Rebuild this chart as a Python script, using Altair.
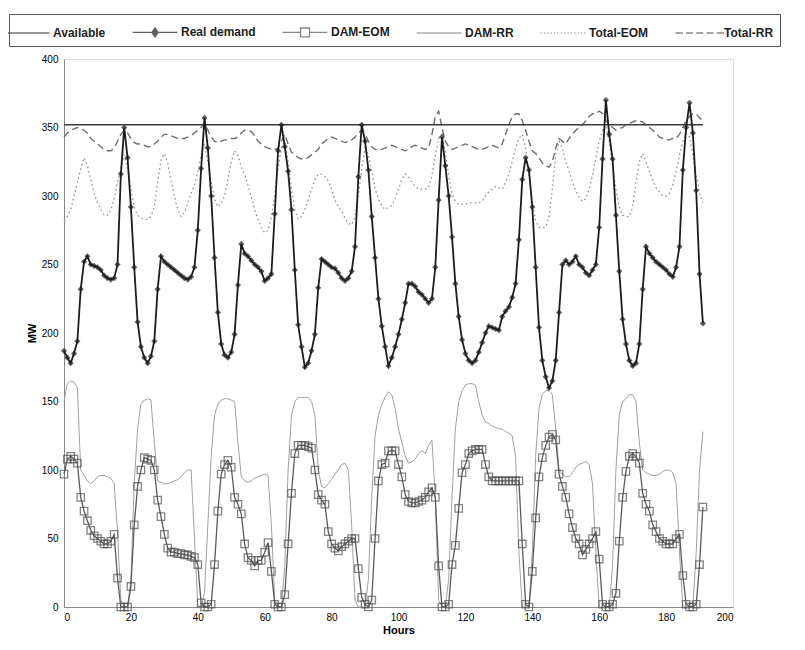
import altair as alt
import pandas as pd
import numpy as np

# ---------------- data ----------------
HOURS = list(range(192))
AVAILABLE_HOURS = [0, 191]
AVAILABLE = [352, 352]

REAL_DEMAND = [
    187, 182, 178, 185, 194, 232, 252, 256, 250, 249, 248, 246, 242, 240, 239, 240, 250, 316, 350, 328, 292, 248, 208, 190,
    182, 178, 183, 194, 232, 256, 252, 250, 248, 246, 244, 242, 240, 239, 241, 248, 275, 320, 357, 335, 300, 255, 215, 192,
    184, 182, 186, 199, 235, 265, 258, 256, 253, 250, 248, 245, 238, 240, 243, 287, 333, 352, 336, 318, 290, 246, 206, 190,
    175, 178, 187, 199, 233, 254, 252, 250, 248, 247, 244, 240, 238, 240, 245, 263, 314, 352, 340, 319, 285, 255, 225, 205,
    190, 176, 182, 190, 199, 210, 222, 236, 236, 234, 230, 228, 225, 222, 225, 248, 297, 343, 322, 300, 270, 236, 212, 195,
    185, 180, 178, 180, 186, 193, 200, 205, 204, 203, 202, 212, 216, 219, 226, 236, 268, 312, 328, 319, 292, 248, 204, 180,
    168, 160, 165, 180, 215, 250, 253, 250, 252, 256, 250, 248, 244, 242, 246, 250, 277, 327, 370, 345, 327, 286, 245, 210,
    192, 180, 176, 178, 192, 232, 263, 258, 255, 252, 250, 248, 246, 243, 241, 248, 263, 319, 350, 368, 346, 304, 243, 207,
]

DAM_EOM = [
    97, 108, 110, 108, 105, 80, 70, 63, 56, 52, 50, 48, 46, 46, 48, 53, 21, 0, 0, 0, 15, 60, 88, 100,
    109, 108, 107, 100, 78, 66, 53, 43, 40, 40, 39, 39, 38, 38, 37, 36, 31, 3, 0, 0, 2, 31, 70, 97,
    104, 107, 102, 80, 75, 68, 46, 36, 34, 30, 34, 34, 40, 47, 26, 2, 0, 0, 9, 46, 83, 112, 118, 118,
    118, 117, 116, 100, 82, 78, 75, 55, 46, 43, 41, 44, 46, 48, 50, 50, 28, 7, 2, 0, 5, 50, 92, 104,
    105, 114, 114, 114, 104, 95, 82, 77, 76, 76, 77, 78, 80, 84, 87, 80, 30, 0, 0, 2, 31, 45, 72, 98,
    104, 112, 114, 115, 115, 115, 104, 95, 92, 92, 92, 92, 92, 92, 92, 92, 92, 46, 2, 0, 26, 65, 95, 109,
    118, 124, 126, 122, 97, 88, 80, 68, 58, 50, 46, 38, 42, 46, 50, 55, 35, 2, 0, 0, 2, 10, 48, 80,
    99, 110, 112, 110, 105, 83, 75, 70, 60, 55, 50, 48, 46, 46, 46, 50, 53, 23, 2, 0, 0, 2, 31, 73,
]

DAM_RR = [
    150, 163, 165, 164, 160, 100, 96, 92, 90, 92, 95, 96, 96, 95, 94, 90, 55, 5, 0, 0, 20, 90, 130, 148,
    151, 152, 151, 120, 92, 91, 90, 90, 91, 92, 93, 95, 98, 100, 100, 50, 0, 0, 10, 60, 110, 140, 148, 151,
    152, 152, 151, 150, 120, 95, 92, 91, 92, 94, 95, 96, 97, 96, 60, 5, 0, 0, 30, 100, 140, 150, 153, 153,
    153, 153, 150, 140, 100, 88, 87, 90, 93, 97, 100, 104, 105, 100, 60, 5, 0, 0, 0, 20, 80, 125, 140, 148,
    153, 157, 155, 145, 130, 120, 110, 105, 106, 108, 112, 114, 112, 118, 122, 80, 5, 0, 0, 20, 80, 130, 150, 158,
    162, 163, 163, 162, 150, 140, 135, 134, 132, 131, 130, 130, 128, 127, 125, 110, 40, 0, 0, 0, 40, 110, 145, 155,
    158, 158, 155, 130, 100, 97, 95, 95, 98, 102, 104, 105, 106, 104, 90, 40, 0, 0, 0, 0, 30, 100, 140, 150,
    152, 155, 155, 150, 120, 100, 98, 97, 96, 96, 97, 99, 100, 100, 98, 90, 40, 0, 0, 0, 0, 40, 100, 128,
]

TOTAL_EOM = [
    282, 285, 290, 300, 310, 320, 328, 322, 312, 302, 295, 290, 286, 286, 290, 298, 310, 320, 330, 320, 305, 292, 286, 284,
    283, 283, 285, 292, 310, 326, 331, 324, 311, 300, 290, 285, 288, 295, 302, 308, 318, 330, 338, 325, 310, 298, 292, 295,
    300, 312, 325, 333, 330, 321, 316, 308, 299, 290, 283, 277, 273, 275, 285, 300, 320, 335, 340, 325, 305, 290, 283, 285,
    290, 297, 305, 312, 316, 316, 314, 311, 305, 297, 292, 289, 284, 280, 279, 285, 300, 320, 335, 330, 318, 305, 298, 293,
    290, 292, 293, 298, 305, 312, 316, 314, 310, 307, 305, 305, 305, 306, 315, 330, 342, 345, 332, 315, 302, 296, 294, 294,
    294, 295, 295, 295, 295, 296, 300, 303, 305, 307, 306, 305, 310, 316, 325, 335, 342, 345, 335, 315, 295, 282, 277, 277,
    277, 285, 305, 330, 340, 335, 325, 318, 310, 304, 299, 296, 298, 305, 315, 328, 340, 348, 350, 340, 322, 305, 292, 286,
    285, 285, 292, 310, 325, 331, 325, 318, 312, 306, 303, 300, 300, 302, 308, 318, 330, 340, 346, 343, 330, 315, 302, 295,
]

TOTAL_RR = [
    343, 346, 348, 349, 350, 349, 348, 346, 342, 340, 338, 336, 334, 333, 333, 335, 340, 345, 348, 346, 342, 339, 338, 338,
    337, 336, 336, 338, 340, 343, 345, 345, 344, 343, 342, 342, 342, 343, 344, 346, 348, 350, 353, 348, 343, 340, 339, 340,
    341, 341, 342, 342, 343, 346, 348, 348, 347, 344, 340, 338, 336, 335, 334, 334, 335, 340, 345, 338, 332, 330, 328, 327,
    327, 328, 330, 332, 334, 338, 340, 342, 343, 342, 341, 340, 339, 340, 341, 343, 346, 348, 345, 340, 336, 334, 333, 334,
    335, 336, 337, 336, 335, 334, 333, 334, 336, 337, 336, 335, 334, 335, 345, 358, 362, 350, 340, 336, 334, 335, 336, 337,
    338, 337, 336, 335, 334, 334, 335, 336, 337, 336, 335, 338, 345, 352, 358, 360, 360, 355, 348, 340, 333, 331, 328, 324,
    322, 321, 325, 335, 342, 340, 338, 342, 345, 348, 350, 352, 355, 358, 360, 360, 362, 360, 355, 352, 350, 348, 349, 350,
    352, 353, 354, 355, 355, 354, 352, 350, 348, 346, 343, 342, 341, 341, 342, 342, 345, 350, 355, 358, 360, 360, 357, 355,
]

SERIES = ["Available", "Real demand", "DAM-EOM", "DAM-RR", "Total-EOM", "Total-RR"]
X_TICKS = list(range(0, 201, 20))
Y_TICKS = list(range(0, 401, 50))

# ---------------- table ----------------
wide = pd.DataFrame({
    "hour": HOURS,
    "Real demand": REAL_DEMAND,
    "DAM-EOM": DAM_EOM,
    "DAM-RR": DAM_RR,
    "Total-EOM": TOTAL_EOM,
    "Total-RR": TOTAL_RR,
})
long = wide.melt("hour", var_name="series", value_name="mw")
avail = pd.DataFrame({"hour": AVAILABLE_HOURS, "series": "Available", "mw": AVAILABLE})
df = pd.concat([avail, long], ignore_index=True)

FONT = "Liberation Sans"
INK = "#1e1e1e"

x_enc = alt.X("hour:Q", scale=alt.Scale(domain=[0, 200], nice=False),
              axis=alt.Axis(values=X_TICKS, title="Hours", grid=False, ticks=False,
                            labelPadding=5, titlePadding=2))
y_enc = alt.Y("mw:Q", scale=alt.Scale(domain=[0, 400], nice=False),
              axis=alt.Axis(values=Y_TICKS, title="MW", grid=False, ticks=False,
                            labelPadding=6, titlePadding=4))

base = alt.Chart(df).encode(x=x_enc, y=y_enc)


def line(name, color, width, dash=None):
    kw = dict(color=color, strokeWidth=width)
    if dash:
        kw["strokeDash"] = dash
    return base.transform_filter(alt.datum.series == name).mark_line(**kw)


lines = [
    line("Total-EOM", "#8c8c8c", 1.3, [1.5, 3]),
    line("Total-RR", "#6e6e6e", 1.4, [7, 4]),
    line("DAM-RR", "#a0a0a0", 1.0),
    line("Available", "#3a3a3a", 1.6),
    line("DAM-EOM", "#5a5a5a", 1.3),
    line("Real demand", "#1c1c1c", 1.8),
]

eom_pts = base.transform_filter(alt.datum.series == "DAM-EOM").mark_point(
    shape="square", filled=False, size=55, color="#505050", strokeWidth=1.3)
dem_pts = base.transform_filter(alt.datum.series == "Real demand").mark_point(
    shape="diamond", filled=True, size=38, color="#1c1c1c")

# legend symbols as paths in symbol units (x from -2 to 2, wider than the slot)
dots = "".join(f"M{v:.2f},0L{v + 0.1:.2f},0" for v in np.arange(-2.0, 1.95, 0.3))
dashes = "".join(f"M{v:.2f},0L{v + 0.64:.2f},0" for v in np.arange(-2.0, 1.8, 0.92))
diamond = ("M-2,0L2,0M0,-0.4L0.28,0L0,0.4L-0.28,0Z"
           "M0,-0.26L0.18,0L0,0.26L-0.18,0Z"
           "M0,-0.12L0.08,0L0,0.12L-0.08,0Z")
square = "M-2,0L-0.4,0M0.4,0L2,0M-0.4,-0.4L0.4,-0.4L0.4,0.4L-0.4,0.4Z"
PATHS = ["M-2,0L2,0", diamond, square, "M-2,0L2,0", dots, dashes]
LEG_COLORS = ["#3a3a3a", "#1c1c1c", "#555555", "#8a8a8a", "#7a7a7a", "#555555"]

leg = alt.Legend(title=None, orient="none", legendX=-55, legendY=-45,
                 direction="horizontal", symbolSize=500, symbolStrokeWidth=1.3,
                 labelFont=FONT, labelFontSize=12, labelFontWeight="bold",
                 labelColor=INK, labelBaseline="middle",
                 strokeColor="#555555", fillColor="white",
                 padding=6, columnPadding=24, labelOffset=14)

legend_layer = alt.Chart(df).transform_filter("false").mark_point(
    filled=False, strokeWidth=1.3).encode(
    x=x_enc, y=y_enc,
    shape=alt.Shape("series:N", scale=alt.Scale(domain=SERIES, range=PATHS), legend=leg),
    stroke=alt.Stroke("series:N", scale=alt.Scale(domain=SERIES, range=LEG_COLORS), legend=leg),
)

chart = alt.layer(*lines, eom_pts, dem_pts, legend_layer).properties(
    width=669, height=548,
    padding={"left": 0, "top": 5, "right": 5, "bottom": 0},
).configure_view(
    stroke="#333333", strokeWidth=1.5
).configure_axis(
    labelFont=FONT, labelFontSize=13, labelColor=INK,
    titleFont=FONT, titleFontSize=12, titleFontWeight="bold", titleColor=INK,
    domainColor="#333333", domainWidth=1.5,
).configure(background="white")

chart.save("out.html", embed_options={"renderer": "svg", "actions": False})
